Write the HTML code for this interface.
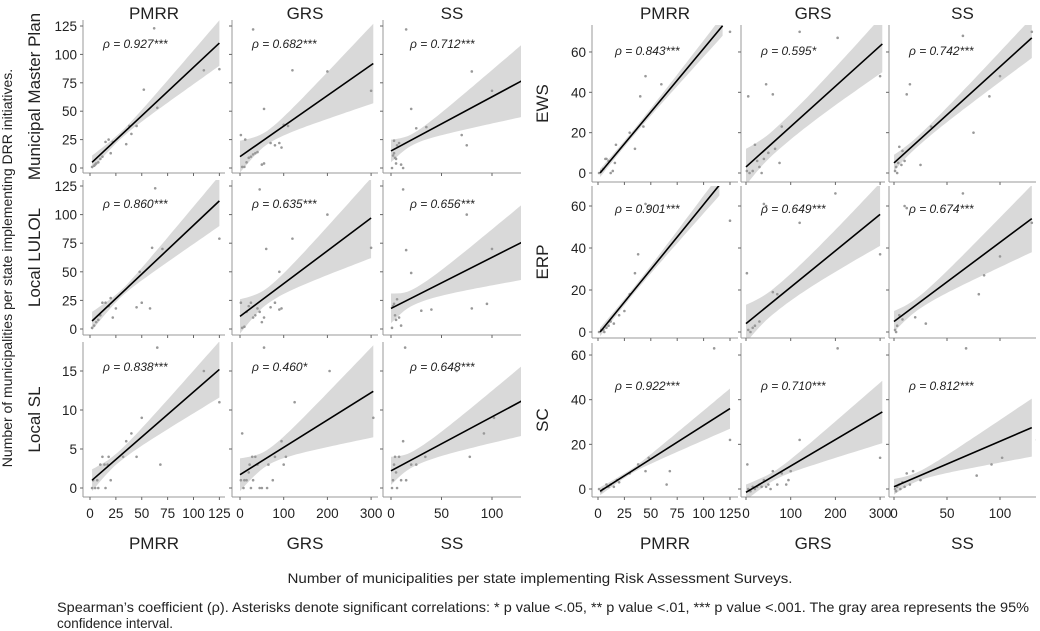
<!DOCTYPE html>
<html><head><meta charset="utf-8">
<style>
html,body{margin:0;padding:0;background:#fff;}
svg{display:block;font-family:"Liberation Sans",Arial,sans-serif;}
</style></head>
<body>
<svg id="chart" width="1040" height="631" viewBox="0 0 1040 631" xmlns="http://www.w3.org/2000/svg">
<defs id="defs"></defs>
<g id="plots"></g>
<text x="12" y="268" font-size="14" fill="#222" text-anchor="middle" transform="rotate(-90 12 268)">Number of municipalities per state implementing DRR initiatives.</text>
<text x="540" y="583" font-size="14" fill="#222" text-anchor="middle" textLength="505" lengthAdjust="spacingAndGlyphs">Number of municipalities per state implementing Risk Assessment Surveys.</text>
<text x="57" y="612" font-size="14" fill="#222" textLength="972" lengthAdjust="spacingAndGlyphs">Spearman’s coefficient (ρ). Asterisks denote significant correlations: * p value &lt;.05, ** p value &lt;.01, *** p value &lt;.001. The gray area represents the 95%</text>
<text x="57" y="628" font-size="14" fill="#222" textLength="116" lengthAdjust="spacingAndGlyphs">confidence interval.</text>
</svg>
<script>
// ---- data ----
const colNames = ["PMRR","GRS","SS"];
const leftRows = ["Municipal Master Plan","Local LULOL","Local SL"];
const rightRows = ["EWS","ERP","SC"];
const xTicksPMRR = [0,25,50,75,100,125];
const xTicksGRS = [0,100,200,300];
const xTicksSS = [0,50,100];
const yTicksBig = [0,25,50,75,100,125];
const yTicksSL = [0,5,10,15];
const yTicksRight = [0,20,40,60];
// rho labels (row-major: left block then right block)
const rhoLabels = ["0.927***","0.682***","0.712***","0.860***","0.635***","0.656***","0.838***","0.460*","0.648***",
                   "0.843***","0.595*","0.742***","0.901***","0.649***","0.674***","0.922***","0.710***","0.812***"];
// fit lines: [x0,y0,x1,y1]
const fitLines = [
 [2,5,125,110],[0,10,305,92],[0,15,130,77],
 [2,7,125,112],[0,11,300,97],[0,18,130,76],
 [2,1,125,15.2],[0,1.7,305,12.4],[0,2.2,130,11.2],
 [2,0,118,73],[0,3,305,64],[0,5,130,67],
 [2,0,115,70],[0,4,300,56],[0,5,130,54],
 [2,-1,125,36],[0,-1.5,305,34.5],[0,1,130,27.5]];
// CI half-widths: [hStart, hMin, xMin, hEnd]
const ciWidths = [
 [6,3,30,20],[14,6,60,35],[10,5,20,32],
 [8,3,30,22],[15,7,60,35],[13,7,20,33],
 [1.4,0.7,25,3.6],[2.1,1,60,5.9],[1.8,1,20,4.5],
 [2,1.5,30,5],[9,6,60,14],[4,2.5,20,10],
 [2,1.5,30,5],[9,6,60,15],[5,3,20,16],
 [1.8,1,30,9],[3.5,2,60,14],[3.5,2,20,13]];
const pointsX = [
 [2,4,6,8,12,15,18,20,22,35,38,40,45,52,62,65,110,125,10,5],
 [2,5,10,12,15,20,25,30,35,40,50,55,30,55,70,80,90,95,100,110,120,200,300],
 [1,2,3,4,5,6,8,10,12,15,20,25,35,70,75,80,100,5,3],
 [2,4,6,10,12,15,18,20,22,25,45,48,50,58,60,70,63,125,8],
 [2,5,10,15,20,25,30,35,40,45,50,55,60,70,80,90,95,45,90,120,200,300],
 [1,2,3,4,5,6,8,10,12,15,20,30,40,75,80,95,100,130],
 [2,3,5,7,8,10,12,14,15,17,18,20,32,35,40,45,50,65,68,110,125],
 [2,5,8,10,15,20,22,25,28,30,35,40,45,50,55,62,65,75,80,95,100,105,125,205,305],
 [1,2,3,4,5,6,8,10,12,14,15,20,25,34,65,78,92,102,130],
 [1,3,5,7,10,12,14,16,17,30,35,40,43,45,60,125,8],
 [2,5,8,15,20,25,30,35,40,45,50,60,65,75,80,120,205,300],
 [1,2,3,4,5,7,8,10,12,15,25,35,65,75,90,100,130],
 [1,3,5,8,10,12,15,20,30,35,38,45,48,125,25,6],
 [2,5,10,15,20,30,40,45,60,70,120,200,300],
 [1,2,3,5,8,10,12,20,30,65,80,85,100,130],
 [1,3,5,8,10,12,15,18,20,30,38,45,48,65,68,110,125],
 [3,5,10,15,20,25,30,35,40,45,50,55,60,70,80,90,95,100,120,205,300],
 [1,2,3,5,6,8,10,12,15,18,25,68,78,92,102,135]];
const pointsY = [
 [1,2,4,5,10,23,25,13,23,21,37,30,37,69,123,53,86,87,8,3],
 [29,1,1,25,5,9,10,12,13,14,3,4,122,52,22,20,22,18,38,37,86,85,68],
 [0,11,13,9,8,20,22,3,0,122,52,35,36,29,20,85,68,4,24],
 [1,3,6,12,23,23,20,27,10,18,19,50,23,18,71,70,123,79,8],
 [23,1,2,15,20,23,10,12,18,15,6,10,70,19,23,17,18,122,50,79,100,71],
 [1,20,22,12,8,26,10,3,122,69,49,16,17,100,18,22,70,78],
 [0,1,0,1,0,3,4,3,0,3,4,1,4,6,7,4,9,18,3,15,11],
 [1,7,0,1,1,2,3,0,4,1,4,3,0,0,18,0,3,1,4,6,3,4,11,15,9],
 [0,1,3,4,2,0,4,1,6,18,1,3,3,4,15,4,7,9,11],
 [0,1,2,7,6,0,1,5,14,20,12,38,23,48,44,70,7],
 [1,38,0,1,14,6,3,0,7,44,10,39,12,5,23,70,67,48],
 [1,3,0,5,13,4,11,6,39,44,4,23,68,20,38,48,70],
 [0,1,1,2,3,5,4,8,18,28,37,61,60,53,10,0],
 [28,1,0,2,3,5,61,60,19,18,52,66,37],
 [1,0,3,8,6,60,59,7,4,66,18,27,36,52],
 [0,-1,0,2,1,2,1,4,3,7,11,8,14,2,8,63,22],
 [11,0,-1,1,0,1,2,1,4,1,2,0,8,2,7,2,4,8,22,63,14],
 [0,-1,1,2,0,3,1,7,2,8,4,63,6,11,14,22]];

// ---- layout (pixels) ----
const colLayout = [
 [{x0:83,x1:225,p0:90,s:1.035},{x0:232,x1:378,p0:240,s:0.437},{x0:383,x1:521,p0:391,s:1.01}],
 [{x0:592,x1:738,p0:598,s:1.056},{x0:741,x1:885,p0:746,s:0.447},{x0:889,x1:1036,p0:894,s:1.06}]];
const rowLayout = [
 [{y0:20,y1:173,p0:168,s:1.136},{y0:180,y1:335,p0:329,s:1.144},{y0:342,y1:497,p0:488,s:7.8}],
 [{y0:25,y1:182,p0:173,s:2.017},{y0:186,y1:338,p0:332,s:2.1},{y0:343,y1:497,p0:489,s:2.233}]];
const rhoOffY = [[28,28,29],[30,27,47]];
const rhoOffX = [[20,20,27],[23,20,20]];

const NS="http://www.w3.org/2000/svg";
const plots=document.getElementById('plots');
const defs=document.getElementById('defs');
function mk(tag,attrs,parent){const e=document.createElementNS(NS,tag);for(const k in attrs)e.setAttribute(k,attrs[k]);(parent||plots).appendChild(e);return e;}
const xTickSets=[xTicksPMRR,xTicksGRS,xTicksSS];

for(let b=0;b<2;b++){
 for(let r=0;r<3;r++){
  const R=rowLayout[b][r];
  const yTicks = b===1 ? yTicksRight : (r===2 ? yTicksSL : yTicksBig);
  const lx = b===0 ? 40 : 548;
  const ly = (R.y0+R.y1)/2;
  const rl=mk('text',{x:lx,y:ly,'font-size':17,fill:'#222','text-anchor':'middle',transform:`rotate(-90 ${lx} ${ly})`});
  rl.textContent=(b===0?leftRows:rightRows)[r];
  
  
  for(let c=0;c<3;c++){
   const C=colLayout[b][c];
   const idx=b*9+r*3+c;
   const sx=v=>C.p0+v*C.s, sy=v=>R.p0-v*R.s;
   const g=mk('g',{});
   
   
   const cp=mk('clipPath',{id:'cp'+idx},defs);
   mk('rect',{x:C.x0,y:R.y0,width:C.x1-C.x0,height:R.y1-R.y0},cp);
   const inner=mk('g',{'clip-path':`url(#cp${idx})`},g);
   const [x0,y0,x1,y1]=fitLines[idx];
   const [hs,hm,xm,he]=ciWidths[idx];
   const cL=(hs*hs-hm*hm)/Math.pow(Math.max(xm-x0,1),2), cR=(he*he-hm*hm)/Math.pow(Math.max(x1-xm,1),2);
   const up=[],lo=[];
   for(let i=0;i<=40;i++){const x=x0+(x1-x0)*i/40;const yl=y0+(y1-y0)*(x-x0)/(x1-x0);
     const h=Math.sqrt(hm*hm+(x<xm?cL:cR)*(x-xm)*(x-xm));
     up.push(sx(x).toFixed(1)+','+sy(yl+h).toFixed(1));lo.push(sx(x).toFixed(1)+','+sy(yl-h).toFixed(1));}
   const band=mk('polygon',{points:up.concat(lo.reverse()).join(' '),fill:'#d9d9d9'},inner);
   
   
   const px=pointsX[idx],py=pointsY[idx];
   for(let i=0;i<px.length;i++){
     const p=mk('circle',{cx:sx(px[i]),cy:sy(py[i]),r:1.3,fill:'#999'},inner);
     
     
   }
   const ln=mk('line',{x1:sx(x0),y1:sy(y0),x2:sx(x1),y2:sy(y1),stroke:'#000','stroke-width':1.6},inner);
   
   
   mk('line',{x1:C.x0,y1:R.y0,x2:C.x0,y2:R.y1,stroke:'#999','stroke-width':1},g);
   mk('line',{x1:C.x0,y1:R.y1,x2:C.x1,y2:R.y1,stroke:'#999','stroke-width':1},g);
   for(const t of yTicks){mk('line',{x1:C.x0-3,y1:sy(t),x2:C.x0,y2:sy(t),stroke:'#666'},g);
     if(c===0){const tl=mk('text',{x:C.x0-6,y:sy(t)+5,'font-size':13.5,fill:'#222','text-anchor':'end'},g);tl.textContent=t;
       
       }}
   for(const t of xTickSets[c]){mk('line',{x1:sx(t),y1:R.y1,x2:sx(t),y2:R.y1+3,stroke:'#666'},g);
     if(r===2){const tl=mk('text',{x:sx(t),y:R.y1+21,'font-size':13.5,fill:'#222','text-anchor':'middle'},g);tl.textContent=t;
       
       }}
   const rt=mk('text',{x:C.x0+rhoOffX[b][c],y:R.y0+rhoOffY[b][r],'font-size':12,'font-style':'italic',fill:'#222'},g);
   rt.textContent='ρ = '+rhoLabels[idx];
   
   
   if(r===0){const ct=mk('text',{x:(C.x0+C.x1)/2,y:19,'font-size':17,fill:'#222','text-anchor':'middle'},g);ct.textContent=colNames[c];
     
     }
   if(r===2){const ct=mk('text',{x:(C.x0+C.x1)/2,y:549,'font-size':17,fill:'#222','text-anchor':'middle'},g);ct.textContent=colNames[c];
     
     }
  }
 }
}
</script>
</body></html>
